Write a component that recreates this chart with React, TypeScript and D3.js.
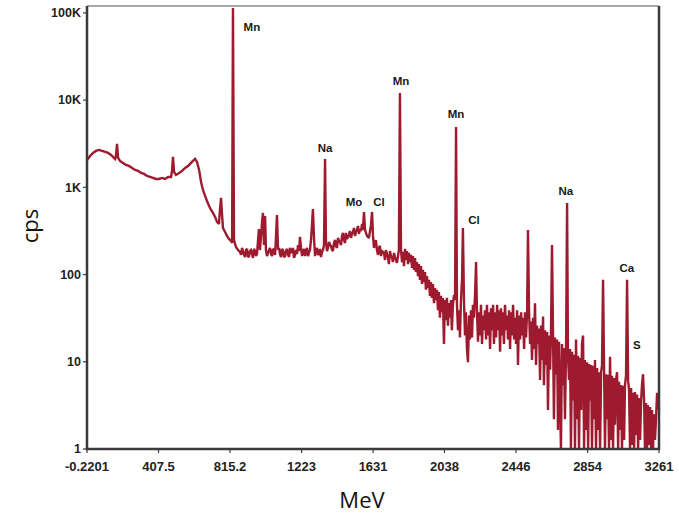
import React from "react";
import * as d3 from "d3";

// ---- data ----
const xTickValues = [-0.2201, 407.5, 815.2, 1223, 1631, 2038, 2446, 2854, 3261];
const xTickLabels = ["-0.2201", "407.5", "815.2", "1223", "1631", "2038", "2446", "2854", "3261"];
const yTickValues = [1, 10, 100, 1000, 10000, 100000];
const yTickLabels = ["1", "10", "100", "1K", "10K", "100K"];

// [energy (MeV), counts per second]
const spectrum: [number, number][] = [
  [0, 2061], [17, 2292], [34, 2481], [51, 2615], [68, 2685], [86, 2615], [103, 2547], [120, 2481],
  [137, 2353], [148, 2232], [160, 2117], [165, 2292], [171, 3146], [177, 2173], [188, 2008], [205, 1904],
  [222, 1806], [239, 1759], [257, 1668], [274, 1584], [291, 1543], [308, 1463], [325, 1425], [342, 1351],
  [359, 1316], [376, 1282], [393, 1248], [410, 1248], [428, 1282], [445, 1248], [462, 1316], [479, 1316],
  [485, 1584], [490, 2232], [496, 1502], [507, 1387], [525, 1463], [542, 1543], [559, 1668], [576, 1759],
  [593, 1904], [604, 2008], [616, 2117], [627, 1955], [639, 1584], [650, 1153], [661, 934], [673, 797],
  [684, 698], [696, 612], [707, 551], [718, 509], [730, 458], [741, 401], [752, 380], [758, 551],
  [764, 756], [770, 482], [775, 342], [787, 308], [798, 277], [809, 256], [821, 243], [827, 230],
  [832, 114000], [838, 249], [849, 207], [861, 191], [872, 182],
  [884, 202], [895, 168], [906, 191], [918, 159], [929, 186], [941, 172], [952, 197], [963, 163],
  [975, 249], [980, 333], [986, 191], [998, 401], [1003, 509], [1009, 218], [1015, 470], [1020, 191],
  [1032, 177], [1043, 202], [1055, 163], [1066, 191], [1077, 263], [1083, 482], [1089, 191], [1100, 172],
  [1112, 197], [1123, 159], [1134, 186], [1146, 168], [1157, 202], [1169, 177], [1180, 155], [1191, 191],
  [1203, 218], [1214, 270], [1220, 202], [1231, 182], [1243, 163], [1254, 202], [1265, 177], [1277, 249],
  [1288, 565], [1294, 263], [1305, 191], [1317, 168], [1328, 197], [1340, 182], [1351, 218], [1357, 2117],
  [1362, 249], [1374, 202], [1385, 218], [1397, 191], [1408, 230], [1419, 213], [1431, 263], [1442, 237],
  [1454, 277], [1465, 249], [1476, 300], [1488, 270], [1499, 316], [1510, 292], [1522, 342], [1533, 308],
  [1545, 361], [1556, 333], [1568, 380], [1573, 325], [1579, 522], [1585, 325], [1596, 277], [1607, 263],
  [1619, 371], [1625, 522], [1630, 285], [1642, 230], [1653, 191], [1664, 202], [1676, 163], [1687, 182],
  [1699, 147], [1710, 172], [1721, 132], [1733, 163], [1744, 139], [1756, 159], [1767, 136], [1778, 191],
  [1784, 12100],
  [1790, 191], [1796, 139], [1801, 182], [1807, 125], [1813, 197], [1818, 147], [1824, 186], [1830, 132],
  [1835, 177], [1841, 139], [1847, 168], [1853, 119], [1858, 163], [1864, 113], [1870, 155], [1875, 107],
  [1881, 139], [1887, 96], [1892, 132], [1898, 87], [1904, 125], [1910, 78], [1915, 113], [1921, 82],
  [1927, 107], [1932, 67], [1938, 96], [1944, 70], [1949, 87], [1955, 57], [1961, 82], [1966, 54],
  [1972, 78], [1978, 47], [1984, 70], [1989, 51], [1995, 67], [2001, 39], [2006, 63], [2012, 32],
  [2018, 57], [2023, 37], [2029, 54], [2035, 16], [2040, 51], [2046, 30], [2052, 54], [2058, 26],
  [2063, 47], [2069, 32], [2075, 51], [2080, 23], [2086, 45], [2092, 58], [2098, 51],
  [2104, 4930],
  [2109, 45], [2115, 23], [2121, 39], [2126, 19], [2132, 51], [2138, 87], [2143, 342], [2149, 51],
  [2155, 20], [2160, 37], [2166, 14], [2172, 9.9], [2178, 34], [2183, 18], [2189, 39], [2195, 19],
  [2200, 45], [2206, 32], [2212, 58], [2218, 139], [2223, 39], [2229, 17], [2235, 37], [2240, 20],
  [2246, 45], [2252, 16], [2258, 34], [2263, 23], [2269, 39], [2275, 18], [2280, 45], [2286, 20],
  [2292, 37], [2298, 14], [2303, 41], [2309, 23], [2315, 45], [2320, 16], [2326, 37], [2332, 19],
  [2338, 45], [2343, 23], [2349, 39], [2355, 13], [2360, 41], [2366, 20], [2372, 37], [2377, 16],
  [2383, 45], [2389, 23], [2395, 34], [2400, 18], [2406, 39], [2412, 14], [2417, 37], [2423, 20],
  [2429, 45], [2435, 18], [2440, 32], [2446, 16], [2452, 39], [2457, 9.2], [2463, 34], [2469, 18],
  [2475, 37], [2480, 20], [2486, 32], [2492, 14], [2497, 37], [2503, 19], [2509, 37],
  [2514, 325],
  [2520, 39], [2526, 16], [2531, 29], [2537, 10.5], [2543, 32], [2548, 14], [2554, 47], [2560, 9.2],
  [2565, 26], [2571, 16], [2577, 24], [2583, 6.2], [2588, 26], [2594, 10.5], [2600, 33], [2605, 5.4],
  [2611, 23], [2617, 9.2], [2623, 22], [2628, 2.8], [2634, 20], [2640, 8.1], [2645, 20], [2651, 218],
  [2657, 19], [2662, 2.2], [2668, 19], [2674, 7.1], [2680, 18], [2685, 1.65], [2691, 17], [2697, 3.6],
  [2702, 1], [2708, 16], [2714, 5.4], [2719, 14.4], [2725, 2.2], [2731, 14], [2737, 662], [2742, 12],
  [2748, 6.2], [2754, 14], [2759, 1], [2765, 13], [2771, 3.6], [2777, 12], [2782, 1], [2788, 18],
  [2794, 2.2], [2799, 11.7], [2805, 1], [2811, 11.1], [2817, 2.8], [2822, 16], [2828, 20], [2834, 1],
  [2839, 10.5], [2845, 1.65], [2851, 9.9], [2857, 1], [2862, 9.4], [2868, 3.6], [2874, 9.2], [2879, 1],
  [2885, 9.0], [2891, 2.2], [2896, 10.5], [2902, 1], [2908, 8.5], [2914, 1.65], [2919, 7.6], [2925, 1],
  [2931, 7.6], [2936, 9], [2942, 87], [2948, 8], [2953, 1], [2959, 7.2], [2965, 2.2], [2970, 7.1],
  [2976, 1], [2982, 11.4], [2988, 1.27], [2993, 6.9], [2999, 1], [3005, 6.5], [3010, 1.9], [3016, 6.2],
  [3022, 7.6], [3028, 1], [3033, 5.9], [3039, 1.65], [3045, 5.4], [3050, 1], [3056, 5.3], [3062, 1.27],
  [3067, 5.4], [3073, 7], [3079, 87], [3085, 6], [3090, 4.8], [3096, 1], [3102, 5.0], [3107, 1.11],
  [3113, 4.4], [3119, 1], [3124, 4.5], [3130, 1.45], [3136, 4.2], [3142, 1], [3147, 3.85], [3153, 1.27],
  [3159, 3.6], [3164, 5.4], [3170, 7.2], [3176, 3.6], [3181, 1], [3187, 3.37], [3193, 1], [3198, 3.2],
  [3204, 1.11], [3210, 3.03], [3216, 1], [3221, 2.8], [3227, 1], [3233, 2.5], [3238, 1.27], [3244, 2.2],
  [3250, 4.4], [3255, 3.6], [3261, 2.8],
];

// extra channels in the noisy 870–1780 MeV band
const spectrumExtra: [number, number][] = [
  [878, 168], [889, 186], [901, 159], [912, 197], [924, 163], [935, 191], [946, 155], [958, 186],
  [969, 172], [1026, 163], [1038, 191], [1049, 172], [1060, 197], [1072, 168], [1095, 202], [1106, 159],
  [1117, 191], [1129, 163], [1140, 197], [1152, 159], [1163, 186], [1174, 202], [1186, 168], [1197, 172],
  [1209, 186], [1226, 163], [1237, 197], [1248, 186], [1260, 163], [1271, 191], [1300, 163], [1311, 202],
  [1322, 172], [1334, 159], [1345, 191], [1368, 186], [1380, 237], [1391, 213], [1402, 186], [1414, 249],
  [1425, 202], [1436, 243], [1448, 218], [1459, 300], [1471, 230], [1482, 256], [1493, 285], [1505, 263],
  [1516, 308], [1528, 277], [1539, 325], [1550, 292], [1562, 316], [1636, 202], [1647, 249], [1659, 168],
  [1670, 213], [1681, 186], [1693, 177], [1704, 191], [1716, 155], [1727, 186], [1738, 159], [1750, 177],
  [1761, 147], [1773, 163],
];

// peak annotations: [label, energy anchor, cps anchor]
const peakLabels: [string, number, number][] = [
  ["Mn", 940, 62100],
  ["Na", 1357, 2547],
  ["Mo", 1522, 612],
  ["Cl", 1664, 612],
  ["Mn", 1790, 14900],
  ["Mn", 2104, 6250],
  ["Cl", 2206, 380],
  ["Na", 2730, 818],
  ["Ca", 3078, 107],
  ["S", 3135, 14],
];

const xTitle = "MeV";
const yTitle = "cps";

// ---- layout ----
const W = 679;
const H = 513;
const left = 87;
const right = 659;
const top = 6;
const bottom = 449;

export default function App() {
  const x = d3.scaleLinear().domain([-0.2201, 3261]).range([left, right]);
  const y = d3.scaleLog().domain([1, 120000]).range([bottom, top]);

  const series = [...spectrum, ...spectrumExtra].sort((a, b) => a[0] - b[0]);

  const line = d3
    .line<[number, number]>()
    .x((d) => x(d[0]))
    .y((d) => y(Math.max(1, d[1])));

  const tickFont = "'Liberation Sans', Arial, sans-serif";
  const axisColor = "#3a3a3a";

  return (
    <svg
      width={W}
      height={H}
      style={{ position: "absolute", left: 0, top: 0, background: "#fff" }}
      xmlns="http://www.w3.org/2000/svg"
    >
      <rect x={0} y={0} width={W} height={H} fill="#fff" />
      {/* top frame line (thin grey) */}
      <line x1={left} x2={right} y1={top} y2={top} stroke="#8a8a8a" strokeWidth={1.5} />

      {/* spectrum */}
      <path
        d={line(series) || ""}
        fill="none"
        stroke="#9e1a2e"
        strokeWidth={2.4}
        strokeLinejoin="miter"
        strokeMiterlimit={2}
      />

      {/* axes frame */}
      <line x1={left} x2={left} y1={top} y2={bottom + 1} stroke={axisColor} strokeWidth={2.5} />
      <line x1={right} x2={right} y1={top} y2={bottom + 1} stroke={axisColor} strokeWidth={2.5} />
      <line x1={left - 1} x2={right + 1} y1={bottom} y2={bottom} stroke={axisColor} strokeWidth={2.5} />

      {/* y ticks */}
      {yTickValues.map((v, i) => (
        <g key={"y" + i}>
          <line x1={left - 4} x2={left} y1={y(v)} y2={y(v)} stroke={axisColor} strokeWidth={1.2} />
          <text
            x={left - 6}
            y={y(v)}
            dy="0.35em"
            textAnchor="end"
            fontFamily={tickFont}
            fontWeight="bold"
            fontSize={12.5}
            fill="#222"
          >
            {yTickLabels[i]}
          </text>
        </g>
      ))}

      {/* x ticks */}
      {xTickValues.map((v, i) => (
        <g key={"x" + i}>
          <line x1={x(v)} x2={x(v)} y1={bottom} y2={bottom + 4} stroke={axisColor} strokeWidth={1.2} />
          <text
            x={x(v)}
            y={bottom + 22}
            textAnchor="middle"
            fontFamily={tickFont}
            fontWeight="bold"
            fontSize={13}
            fill="#222"
          >
            {xTickLabels[i]}
          </text>
        </g>
      ))}

      {/* peak labels */}
      {peakLabels.map(([t, e, c], i) => (
        <text
          key={"p" + i}
          x={x(e)}
          y={y(c)}
          textAnchor="middle"
          fontFamily={tickFont}
          fontWeight="bold"
          fontSize={11.5}
          fill="#1a1a1a"
        >
          {t}
        </text>
      ))}

      {/* axis titles */}
      <text x={362} y={508} textAnchor="middle" fontFamily="'Open Sans', sans-serif" fontSize={22} fill="#111">
        {xTitle}
      </text>
      <text
        transform={`translate(38, 226) rotate(-90)`}
        textAnchor="middle"
        fontFamily="'Open Sans', sans-serif"
        fontSize={22}
        fill="#111"
      >
        {yTitle}
      </text>
    </svg>
  );
}
